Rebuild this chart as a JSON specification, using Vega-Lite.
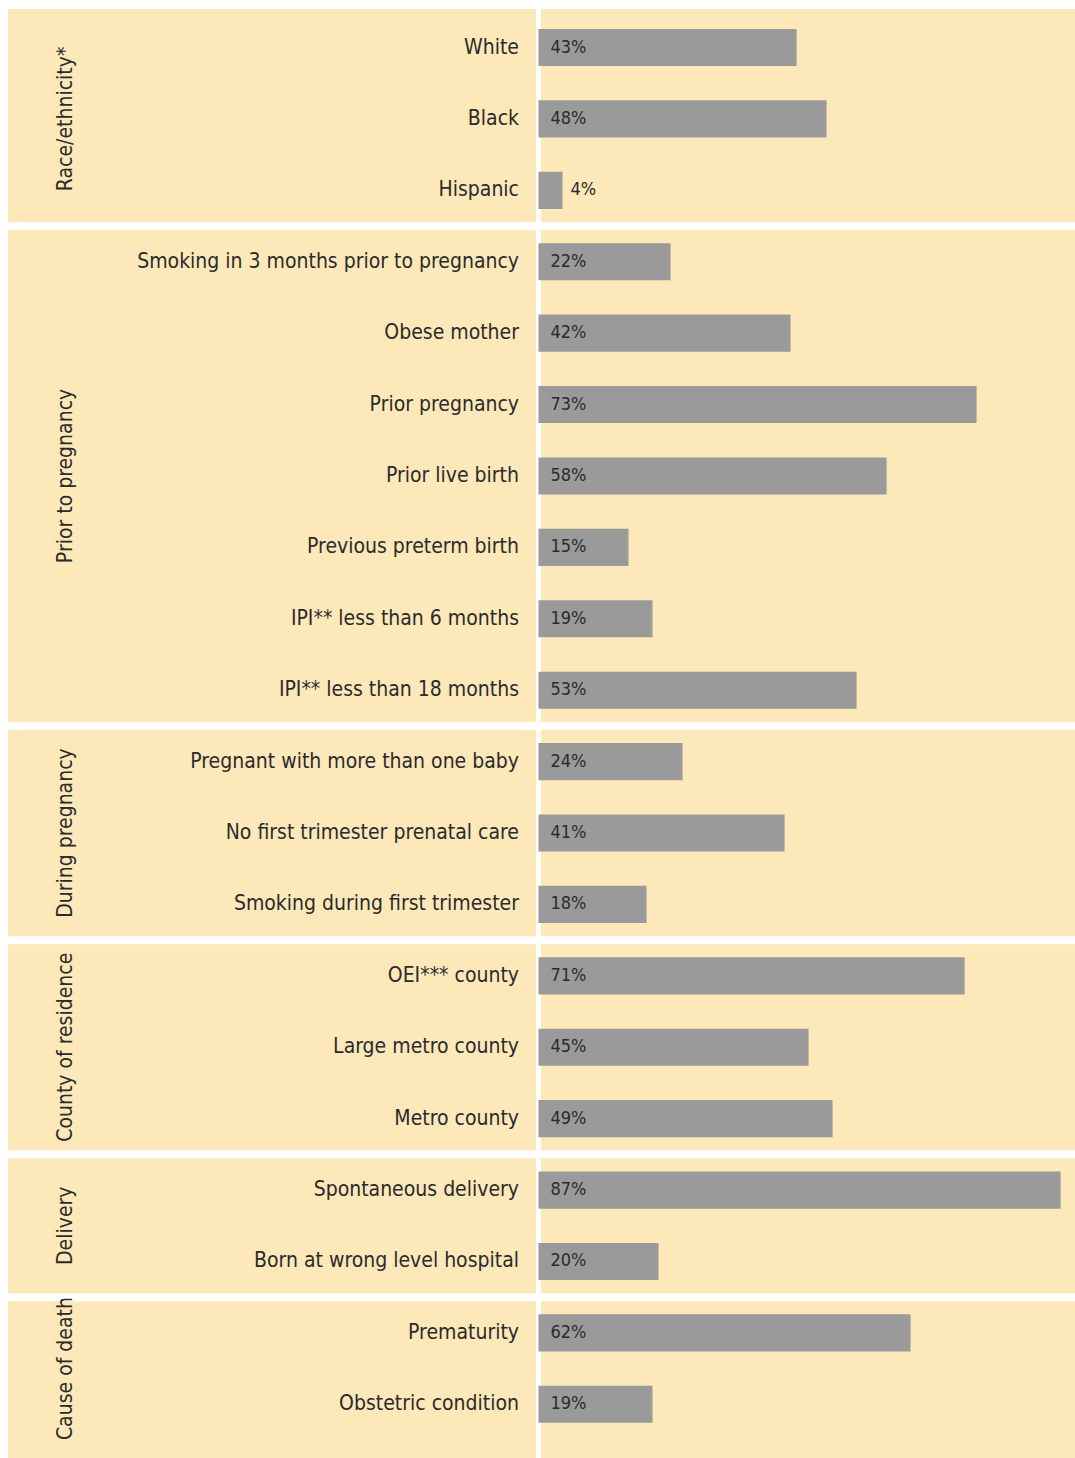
{
  "$schema": "https://vega.github.io/schema/vega-lite/v6.json",
  "width": 1067,
  "height": 1449,
  "autosize": {"type": "none"},
  "padding": {"left": 8, "top": 9, "right": 0, "bottom": 0},
  "background": "white",
  "config": {
    "view": {"fill": "#FCE8B9", "stroke": null},
    "text": {"font": "'DejaVu Sans Condensed', sans-serif", "color": "#2B2B2B"}
  },
  "data": {
    "values": [
      {"group": "Race/ethnicity*", "label": "White", "value": 0.43},
      {"group": "Race/ethnicity*", "label": "Black", "value": 0.48},
      {"group": "Race/ethnicity*", "label": "Hispanic", "value": 0.04},
      {"group": "Prior to pregnancy", "label": "Smoking in 3 months prior to pregnancy", "value": 0.22},
      {"group": "Prior to pregnancy", "label": "Obese  mother", "value": 0.42},
      {"group": "Prior to pregnancy", "label": "Prior pregnancy", "value": 0.73},
      {"group": "Prior to pregnancy", "label": "Prior live birth", "value": 0.58},
      {"group": "Prior to pregnancy", "label": "Previous preterm birth", "value": 0.15},
      {"group": "Prior to pregnancy", "label": "IPI** less than 6 months", "value": 0.19},
      {"group": "Prior to pregnancy", "label": "IPI** less than 18 months", "value": 0.53},
      {"group": "During pregnancy", "label": "Pregnant with more than one baby", "value": 0.24},
      {"group": "During pregnancy", "label": "No first trimester prenatal care", "value": 0.41},
      {"group": "During pregnancy", "label": "Smoking during first trimester", "value": 0.18},
      {"group": "County of residence", "label": "OEI*** county", "value": 0.71},
      {"group": "County of residence", "label": "Large metro county", "value": 0.45},
      {"group": "County of residence", "label": "Metro county", "value": 0.49},
      {"group": "Delivery", "label": "Spontaneous delivery", "value": 0.87},
      {"group": "Delivery", "label": "Born at wrong level hospital", "value": 0.20},
      {"group": "Cause of death", "label": "Prematurity", "value": 0.62},
      {"group": "Cause of death", "label": "Obstetric condition", "value": 0.19}
    ]
  },
  "transform": [
    {"window": [{"op": "row_number", "as": "idx"}]},
    {"window": [{"op": "row_number", "as": "r"}], "groupby": ["group"]}
  ],
  "resolve": {"scale": {"y": "independent"}},
  "layer": [
    {
      "layer": [
        {
          "mark": {"type": "rule", "color": "white", "strokeWidth": 4},
          "encoding": {
            "x": {"datum": 0, "type": "quantitative", "scale": {"domain": [-0.884, 0.894], "nice": false, "zero": false}, "axis": null}
          }
        },
        {
          "mark": {"type": "rule", "color": "white", "strokeWidth": 8},
          "encoding": {
            "y": {"field": "label", "type": "nominal", "sort": null, "bandPosition": 0, "axis": null,
                  "scale": {"paddingInner": 0, "paddingOuter": 0.1456, "align": 0.1346}},
            "opacity": {"condition": {"test": "datum.r == 1 && datum.idx > 1", "value": 1}, "value": 0}
          }
        },
        {
          "mark": {"type": "bar", "color": "#9A9A9A", "height": {"band": 0.52}},
          "encoding": {
            "y": {"field": "label", "type": "nominal", "sort": null, "axis": null},
            "x": {"field": "value", "type": "quantitative"}
          }
        },
        {
          "mark": {"type": "text", "align": "right", "baseline": "middle", "fontSize": 21, "dx": -19.5},
          "encoding": {
            "y": {"field": "label", "type": "nominal", "sort": null},
            "x": {"datum": 0, "type": "quantitative"},
            "text": {"field": "label"}
          }
        },
        {
          "transform": [{"filter": "datum.value >= 0.1"}],
          "mark": {"type": "text", "align": "left", "baseline": "middle", "fontSize": 18, "dx": 12},
          "encoding": {
            "y": {"field": "label", "type": "nominal", "sort": null},
            "x": {"datum": 0, "type": "quantitative"},
            "text": {"field": "value", "type": "quantitative", "format": ".0%"}
          }
        },
        {
          "transform": [{"filter": "datum.value < 0.1"}],
          "mark": {"type": "text", "align": "left", "baseline": "middle", "fontSize": 18, "dx": 8},
          "encoding": {
            "y": {"field": "label", "type": "nominal", "sort": null},
            "x": {"field": "value", "type": "quantitative"},
            "text": {"field": "value", "type": "quantitative", "format": ".0%"}
          }
        }
      ]
    },
    {
      "transform": [{"aggregate": [{"op": "mean", "field": "idx", "as": "mid"}], "groupby": ["group"]}],
      "mark": {"type": "text", "angle": 270, "align": "center", "baseline": "middle", "fontSize": 21},
      "encoding": {
        "x": {"datum": -0.787, "type": "quantitative"},
        "y": {"field": "mid", "type": "quantitative", "axis": null,
              "scale": {"domain": [0.4607, 20.752], "reverse": true, "nice": false, "zero": false}},
        "text": {"field": "group"}
      }
    }
  ]
}
